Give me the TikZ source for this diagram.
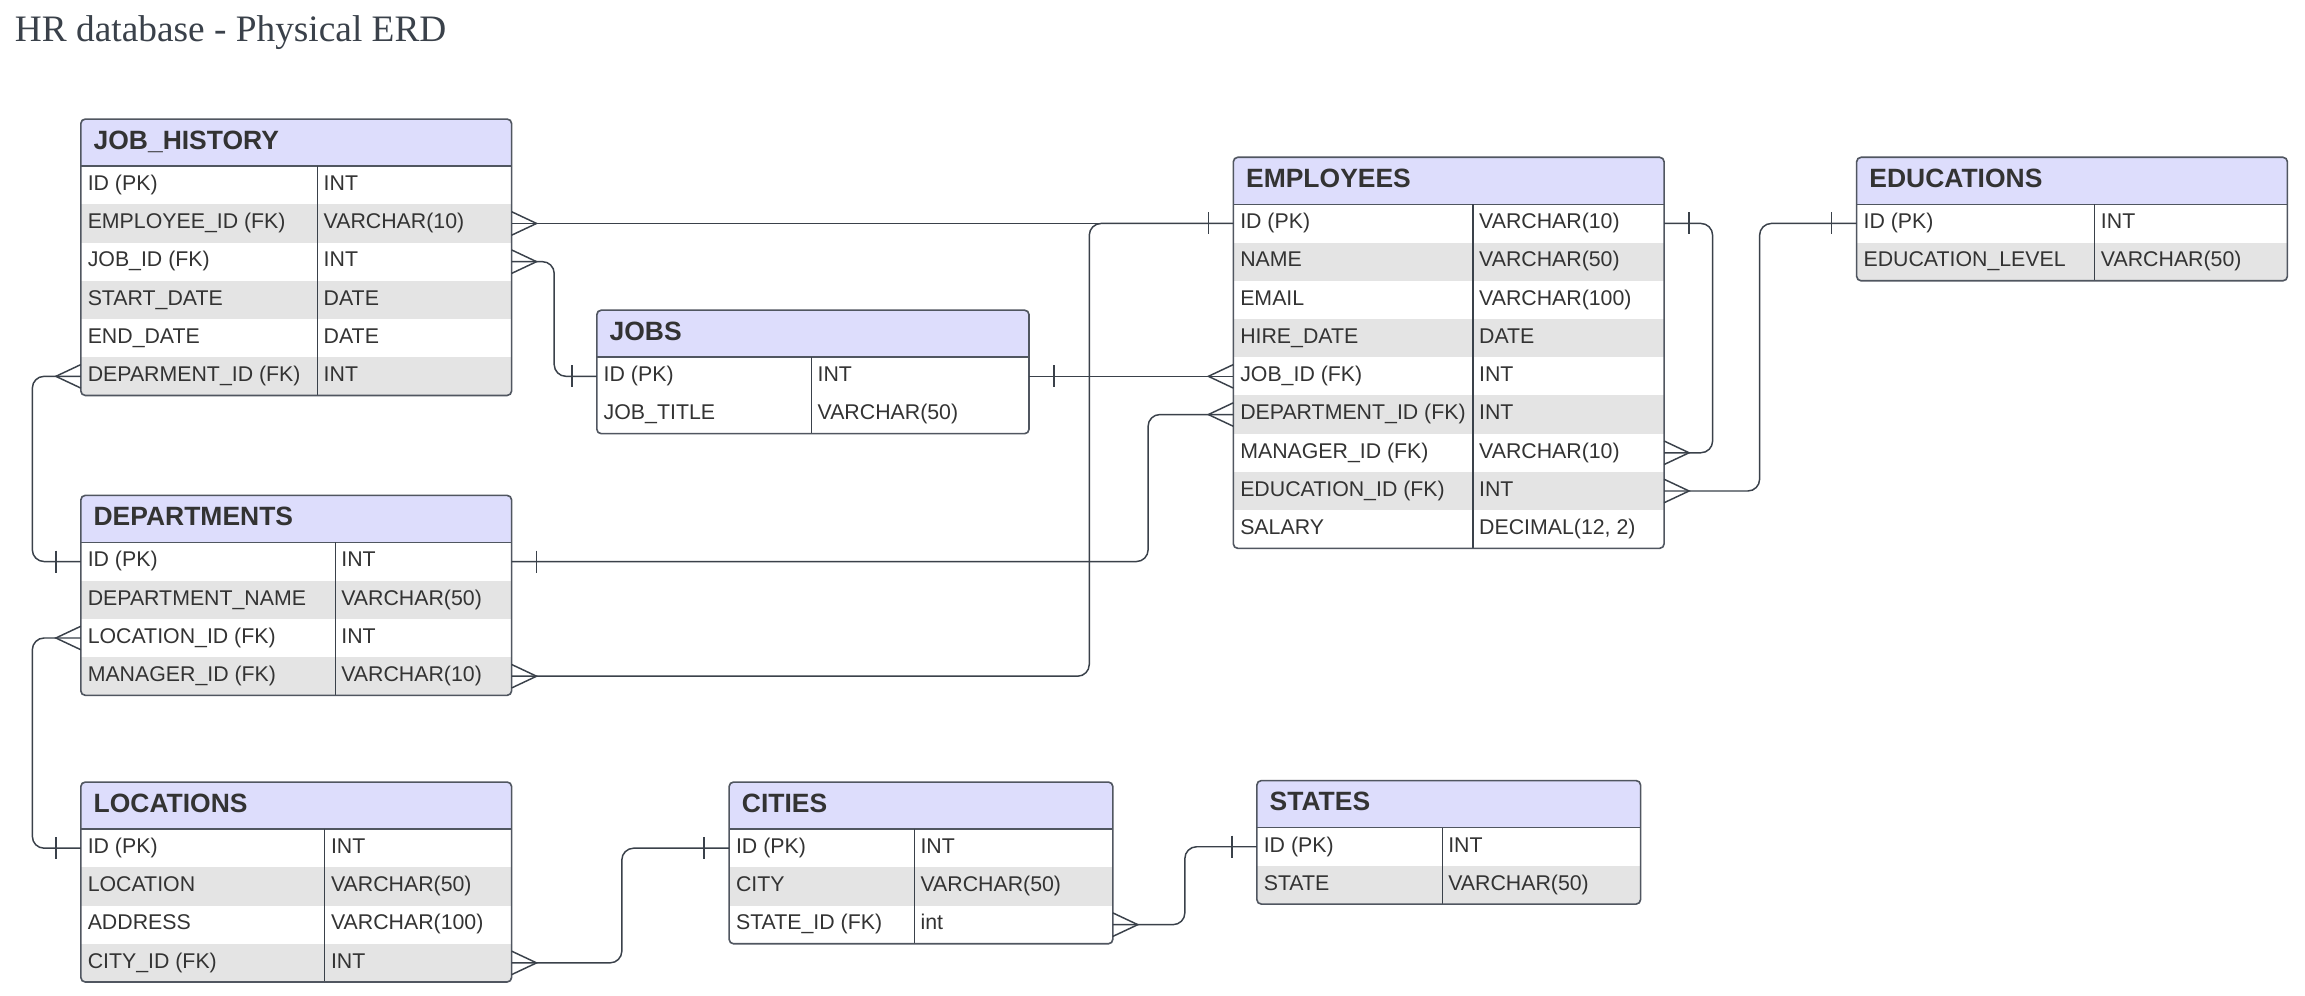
\documentclass[tikz,border=0pt]{standalone}
\usepackage{fontspec}
\setmainfont{Liberation Serif}
\setsansfont{Liberation Sans}
\usetikzlibrary{calc}

\definecolor{inkc}{RGB}{58,65,74}
\definecolor{framec}{RGB}{80,86,96}
\definecolor{headc}{RGB}{221,221,252}
\definecolor{stripe}{RGB}{228,228,228}
\definecolor{textc}{RGB}{51,51,51}

\tikzset{
  rowcell/.style={draw=none, inner sep=0pt, outer sep=0pt, minimum height=26pt, anchor=north west},
  fieldtext/.style={font=\sffamily\fontsize{14.5}{16}\selectfont, text=textc, inner sep=0pt, anchor=base west},
  headtext/.style={font=\sffamily\bfseries\fontsize{18}{20}\selectfont, text=textc, inner sep=0pt, anchor=base west},
  link/.style={draw=inkc, line width=1pt, rounded corners=8pt},
  foot/.style={draw=inkc, line width=1pt},
}

% Entity table: #1 name, #2 left, #3 top, #4 width, #5 type column offset,
% #6 title, #7 rows given as field/type/fill
\newcommand{\erdtable}[7]{%
  \foreach \ffield/\ftype/\ffill [count=\k] in {#7} {\xdef\nrows{\k}}%
  \pgfmathsetmacro{\tr}{#2+#4}%
  \pgfmathsetmacro{\tb}{#3+32+26*\nrows}%
  \begin{scope}
    \clip[rounded corners=3pt] (#2,#3) rectangle (\tr,\tb);
    \fill[white] (#2,#3) rectangle (\tr,\tb);
    \node[rowcell, fill=headc, minimum width=#4pt, minimum height=32pt] (#1-h) at (#2,#3) {};
    \foreach \ffield/\ftype/\ffill [count=\k] in {#7} {
      \pgfmathsetmacro{\ry}{#3+32+26*(\k-1)}
      \node[rowcell, fill=\ffill, minimum width=#4pt] (#1-\k) at (#2,\ry) {};
      \node[fieldtext] at (#2+4.5, \ry+16.6) {\ffield};
      \node[fieldtext] at (#2+#5+4, \ry+16.6) {\ftype};
    }
  \end{scope}
  \node[headtext] (#1-t) at (#2+8.5,#3+20.4) {#6};
  \draw[framec, line width=1pt] (#2,#3+32) -- (\tr,#3+32);
  \draw[inkc, line width=0.8pt] (#2+#5,#3+32) -- (#2+#5,\tb);
  \draw[framec, line width=1.1pt, rounded corners=3pt] (#2,#3) rectangle (\tr,\tb);
}

% Cardinality marks at a table edge
\newcommand{\manyR}[1]{\draw[foot] ($(#1)+(0,-8)$) -- ($(#1)+(17,0)$) -- ($(#1)+(0,8)$);}
\newcommand{\manyL}[1]{\draw[foot] ($(#1)+(0,-8)$) -- ($(#1)+(-17,0)$) -- ($(#1)+(0,8)$);}
\newcommand{\oneR}[1]{\draw[foot] ($(#1)+(17,-7.5)$) -- ($(#1)+(17,7.5)$);}
\newcommand{\oneL}[1]{\draw[foot] ($(#1)+(-17,-7.5)$) -- ($(#1)+(-17,7.5)$);}

\begin{document}
\begin{tikzpicture}[x=1pt, y=-1pt]
\useasboundingbox (0,0) rectangle (1568,677.5);
\fill[white] (0,0) rectangle (1568,677.5);

\node[anchor=base west, inner sep=0pt, font=\fontsize{25.4}{30}\selectfont, text=inkc] (title) at (10,28) {HR database - Physical ERD};

\erdtable{jh}{55}{81}{293}{161}{JOB\_HISTORY}{
  ID (PK)/INT/white,
  EMPLOYEE\_ID (FK)/VARCHAR(10)/stripe,
  JOB\_ID (FK)/INT/white,
  START\_DATE/DATE/stripe,
  END\_DATE/DATE/white,
  DEPARMENT\_ID (FK)/INT/stripe}

\erdtable{jobs}{406}{211}{294}{146}{JOBS}{
  ID (PK)/INT/white,
  JOB\_TITLE/VARCHAR(50)/white}

\erdtable{emp}{839}{107}{293}{163}{EMPLOYEES}{
  ID (PK)/VARCHAR(10)/white,
  NAME/VARCHAR(50)/stripe,
  EMAIL/VARCHAR(100)/white,
  HIRE\_DATE/DATE/stripe,
  JOB\_ID (FK)/INT/white,
  DEPARTMENT\_ID (FK)/INT/stripe,
  MANAGER\_ID (FK)/VARCHAR(10)/white,
  EDUCATION\_ID (FK)/INT/stripe,
  SALARY/{DECIMAL(12, 2)}/white}

\erdtable{edu}{1263}{107}{293}{162}{EDUCATIONS}{
  ID (PK)/INT/white,
  EDUCATION\_LEVEL/VARCHAR(50)/stripe}

\erdtable{dep}{55}{337}{293}{173}{DEPARTMENTS}{
  ID (PK)/INT/white,
  DEPARTMENT\_NAME/VARCHAR(50)/stripe,
  LOCATION\_ID (FK)/INT/white,
  MANAGER\_ID (FK)/VARCHAR(10)/stripe}

\erdtable{loc}{55}{532}{293}{166}{LOCATIONS}{
  ID (PK)/INT/white,
  LOCATION/VARCHAR(50)/stripe,
  ADDRESS/VARCHAR(100)/white,
  CITY\_ID (FK)/INT/stripe}

\erdtable{city}{496}{532}{261}{126}{CITIES}{
  ID (PK)/INT/white,
  CITY/VARCHAR(50)/stripe,
  STATE\_ID (FK)/int/white}

\erdtable{st}{855}{531}{261}{126}{STATES}{
  ID (PK)/INT/white,
  STATE/VARCHAR(50)/stripe}

% Relationships
\draw[link] (jh-2.east) -- (emp-1.west);
\manyR{jh-2.east} \oneL{emp-1.west}

\draw[link] (jh-3.east) -- ++(29,0) |- (jobs-1.west);
\manyR{jh-3.east} \oneL{jobs-1.west}

\draw[link] (jobs-1.east) -- (emp-5.west);
\oneR{jobs-1.east} \manyL{emp-5.west}

\draw[link] (jh-6.west) -- ++(-33,0) |- (dep-1.west);
\manyL{jh-6.west} \oneL{dep-1.west}

\draw[link] (dep-1.east) -| ($(emp-6.west)+(-58,0)$) -- (emp-6.west);
\oneR{dep-1.east} \manyL{emp-6.west}

\draw[link] (dep-4.east) -| ($(emp-1.west)+(-98,0)$) -- (emp-1.west);
\manyR{dep-4.east}

\draw[link] (dep-3.west) -- ++(-33,0) |- (loc-1.west);
\manyL{dep-3.west} \oneL{loc-1.west}

\draw[link] (loc-4.east) -- ++(75,0) |- (city-1.west);
\manyR{loc-4.east} \oneL{city-1.west}

\draw[link] (city-3.east) -- ++(49,0) |- (st-1.west);
\manyR{city-3.east} \oneL{st-1.west}

\draw[link] (emp-7.east) -- ++(33,0) |- (emp-1.east);
\manyR{emp-7.east} \oneR{emp-1.east}

\draw[link] (emp-8.east) -- ++(65,0) |- (edu-1.west);
\manyR{emp-8.east} \oneL{edu-1.west}
\end{tikzpicture}
\end{document}
